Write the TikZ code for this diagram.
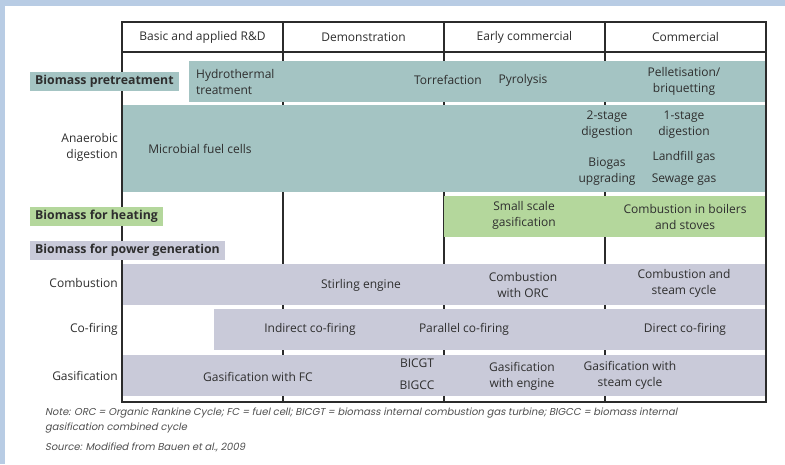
\documentclass[tikz,border=0pt]{standalone}
\usepackage{fontspec}
\setmainfont{Open Sans}
\newfontfamily\notefont[FakeSlant=0.2]{Poppins}
\definecolor{bgblue}{HTML}{B8CCE4}
\definecolor{teal}{HTML}{A4C4C3}
\definecolor{grn}{HTML}{B4D79C}
\definecolor{lav}{HTML}{C9CAD9}
\definecolor{linec}{HTML}{2B2B2B}
\definecolor{textc}{HTML}{2E2E2E}
\definecolor{notec}{HTML}{505050}
\begin{document}
\begin{tikzpicture}[x=1pt,y=-1pt,
  txt/.style={font=\fontsize{12}{16}\selectfont, text=textc, align=center, inner sep=0pt},
  ltxt/.style={txt, align=left, anchor=west},
  rtxt/.style={txt, align=right, anchor=east},
  cat/.style={font=\bfseries\fontsize{12.3}{14}\selectfont, text=textc, anchor=west, inner xsep=5pt, inner ysep=0pt, minimum height=19pt},
  note/.style={font=\notefont\fontsize{10}{15}\selectfont, text=notec, anchor=west, inner sep=0pt},
  gridline/.style={draw=linec, line width=1.4pt}
]
\useasboundingbox (0,0) rectangle (785,464);
\fill[bgblue] (0,0) rectangle (785,464);
\fill[white] (5,6) rectangle (785,464);
% interior column lines
\draw[gridline] (283,22) -- (283,402);
\draw[gridline] (444,22) -- (444,402);
\draw[gridline] (605,22) -- (605,402);
\draw[gridline] (122,52) -- (766,52);
% bands
\fill[teal] (189,61) rectangle (766,102);
\fill[teal] (122,105) rectangle (766,192);
\fill[grn] (444,196) rectangle (766,237);
\fill[lav] (122,264) rectangle (766,305);
\fill[lav] (214,309) rectangle (766,350);
\fill[lav] (122,355) rectangle (766,396);
% outer frame
\draw[gridline] (122,22) rectangle (766,402);
% header
\node[txt] (h1) at (202.5,37) {Basic and applied R\&D};
\node[txt] (h2) at (363.5,37) {Demonstration};
\node[txt] (h3) at (524.5,37) {Early commercial};
\node[txt] (h4) at (685.5,37) {Commercial};
% category labels
\node[cat, fill=teal] (c1) at (30,81.5) {Biomass pretreatment};
\node[cat, fill=grn] (c2) at (30,216.5) {Biomass for heating};
\node[cat, fill=lav] (c3) at (30,250.5) {Biomass for power generation};
% pretreatment
\node[ltxt] (p1) at (196,81.5) {Hydrothermal\\treatment};
\node[txt] (p2) at (448,80) {Torrefaction};
\node[txt] (p3) at (523,80) {Pyrolysis};
\node[txt] (p4) at (684,81) {Pelletisation/\\briquetting};
% anaerobic digestion
\node[rtxt] (a0) at (118,147) {Anaerobic\\digestion};
\node[txt] (a1) at (200,149) {Microbial fuel cells};
\node[txt] (a2) at (607,125) {2-stage\\digestion};
\node[txt] (a3) at (684,125) {1-stage\\digestion};
\node[txt] (a4) at (607,172) {Biogas\\upgrading};
\node[txt] (a5) at (684,157) {Landfill gas};
\node[txt] (a6) at (684,180) {Sewage gas};
% heating
\node[txt] (b1) at (524,215) {Small scale\\gasification};
\node[txt] (b2) at (685,216.5) {Combustion in boilers\\and stoves};
% combustion
\node[rtxt] (r1) at (118,283) {Combustion};
\node[txt] (r1a) at (361,285) {Stirling engine};
\node[txt] (r1b) at (523,284.5) {Combustion\\with ORC};
\node[txt] (r1c) at (684,283) {Combustion and\\steam cycle};
% co-firing
\node[rtxt] (r2) at (118,329) {Co-firing};
\node[txt] (r2a) at (310,329) {Indirect co-firing};
\node[txt] (r2b) at (464,329) {Parallel co-firing};
\node[txt] (r2c) at (685,329) {Direct co-firing};
% gasification
\node[rtxt] (r3) at (118,376) {Gasification};
\node[txt] (r3a) at (258,377) {Gasification with FC};
\node[txt] (r3b) at (417,363) {BICGT};
\node[txt] (r3c) at (417,385) {BIGCC};
\node[txt] (r3d) at (522,376.5) {Gasification\\with engine};
\node[txt] (r3e) at (630,375.5) {Gasification with\\steam cycle};
% notes
\node[note] (n1) at (45,413) {Note: ORC = Organic Rankine Cycle; FC = fuel cell; BICGT = biomass internal combustion gas turbine; BIGCC = biomass internal};
\node[note] (n2) at (45,428) {gasification combined cycle};
\node[note] (n3) at (45,447) {Source: Modified from Bauen et al., 2009};
\end{tikzpicture}
\end{document}
